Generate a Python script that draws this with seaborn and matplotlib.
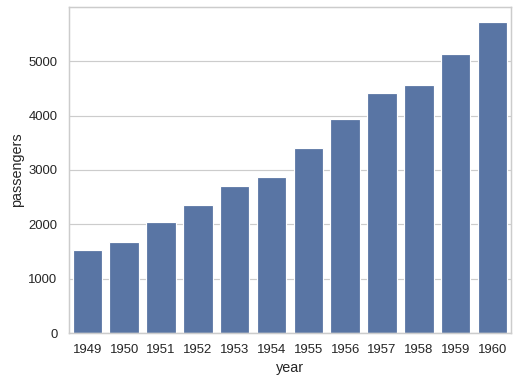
import matplotlib
matplotlib.use("Agg")
import matplotlib.pyplot as plt
import pandas as pd
import seaborn as sns

# Total passengers per year (flights dataset)
years = ["1949", "1950", "1951", "1952", "1953", "1954",
         "1955", "1956", "1957", "1958", "1959", "1960"]
passengers = [1520, 1676, 2042, 2364, 2700, 2867,
              3408, 3939, 4421, 4572, 5140, 5714]

df = pd.DataFrame({"year": years, "passengers": passengers})

sns.set_theme(style="whitegrid")
plt.rcParams["font.family"] = ["Liberation Sans", "DejaVu Sans"]

dpi = 86
fig, ax = plt.subplots(figsize=(514 / dpi, 385 / dpi), dpi=dpi)
sns.barplot(data=df, x="year", y="passengers", ax=ax)

fig.subplots_adjust(left=0.134, right=0.994, top=0.982, bottom=0.135)
fig.savefig("out.png", dpi=dpi)
